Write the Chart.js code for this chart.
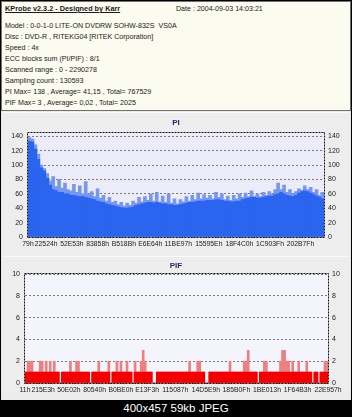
<!DOCTYPE html>
<html>
<head>
<meta charset="utf-8">
<title>KProbe PI/PIF</title>
<script src="https://cdn.jsdelivr.net/npm/chart.js@4.4.0/dist/chart.umd.min.js"></script>
<style>
	body{margin:0;background:#000;width:352px;height:417px;overflow:hidden;font-family:"Liberation Sans",Arial,sans-serif;}
	#frame{position:absolute;left:1px;top:1px;width:350px;height:399px;background:#ebebeb;}
	#info{position:absolute;left:0;top:0;width:348px;height:108px;background:#fbfbef;border:1px solid #707070;}
	.ln{position:absolute;left:3px;font-size:7.1px;color:#1a1a1a;white-space:nowrap;line-height:8px;}
	.hd{font-weight:bold;text-decoration:underline;font-size:7.3px;}
	.pane{position:absolute;left:2px;width:346px;background:#ededed;border-top:1px solid #fafafa;}
	#cap{position:absolute;left:0;top:400px;width:352px;height:17px;color:#fff;font-size:11.5px;text-align:center;line-height:17px;}
</style>
</head>
<body>
<div id="frame">
	<div id="info">
		<div class="ln hd" style="top:3px;">KProbe v2.3.2 - Designed by Karr</div>
		<div class="ln" style="top:3px;left:174px;">Date : 2004-09-03 14:03:21</div>
		<div class="ln" style="top:20px;">Model : 0-0-1-0 LITE-ON DVDRW SOHW-832S&nbsp; VS0A</div>
		<div class="ln" style="top:31px;">Disc : DVD-R , RITEKG04 [RITEK Corporation]</div>
		<div class="ln" style="top:42px;">Speed : 4x</div>
		<div class="ln" style="top:53px;">ECC blocks sum (PI/PIF) : 8/1</div>
		<div class="ln" style="top:64px;">Scanned range : 0 - 2290278</div>
		<div class="ln" style="top:75px;">Sampling count : 130593</div>
		<div class="ln" style="top:86px;">PI Max= 138 , Average= 41,15 , Total= 767529</div>
		<div class="ln" style="top:97px;">PIF Max= 3 , Average= 0,02 , Total= 2025</div>
	</div>
	<div class="pane" style="top:111px;height:143px;"><canvas id="piChart" width="346" height="142"></canvas></div>
	<div class="pane" style="top:255px;height:142px;"><canvas id="pifChart" width="346" height="141"></canvas></div>
</div>
<div id="cap">400x457 59kb JPEG</div>
<script type="text/javascript">
	// tick labels (hex sector addresses)
	var piTicks = ['79h','22524h','52E53h','83858h','B518Bh','E6E64h','11BE97h','15595Eh','18F4C0h','1C903Fh','202B7Fh'];
	var pifTicks = ['11h','215E3h','50E02h','80540h','B0BE0h','E13F3h','115087h','14D5E9h','185B0Fh','1BE013h','1F64B3h','22E957h'];
	var scanEnd = 2290278;

	// PI: solid body of the area and the lighter spikes on top
	var piBase = [133,132,122,108,96,92,82,72,66,64, 62,62,60,60,58,58,57,56,56,55,
		54,53,52,50,49,48,46,45,44,43, 42,41,40,40,41,42,44,45,46,47,
		48,48,47,48,47,46,46,45,45,44, 44,45,46,47,48,48,49,50,50,50,
		51,51,51,52,52,51,50,50,49,49, 50,50,52,53,54,55,55,54,54,55,
		56,57,57,59,60,62,60,58,57,56, 58,61,63,64,63,61,59,57,55,53];
	var piPeak = [138,136,128,115,100,95,88,78,84,70, 80,68,75,66,64,73,62,71,60,77,
		60,63,56,67,54,58,50,55,48,50, 45,48,43,47,44,50,47,55,49,56,
		51,60,50,62,49,57,48,60,47,53, 46,52,49,56,50,58,52,61,53,59,
		54,58,53,62,55,60,52,57,51,58, 53,60,55,61,56,64,57,60,56,62,
		58,63,60,66,75,66,72,62,66,60, 63,67,65,71,66,69,62,66,58,62];

	// PIF per sample
	var pifValues = [1,2,2,2,1,1,1,2,2,1, 2,1,2,1,2,1,1,0,1,1,
		1,1,2,1,1,2,2,1,1,1, 1,1,0,1,1,1,2,1,1,1,
		1,2,0,1,1,2,1,2,1,1, 2,1,1,0,2,1,1,2,3,2,
		1,1,1,0,0,1,1,1,1,1, 1,1,1,1,1,1,1,1,1,1,
		1,2,1,1,1,2,2,1,1,0, 0,1,1,1,1,1,1,1,1,1,
		1,2,1,1,1,1,1,1,2,2, 3,1,1,1,1,0,1,1,2,2,
		1,1,1,1,1,1,2,3,3,2, 2,1,2,1,1,2,1,1,1,2,
		1,1,0,1,1,0,1,1,2,2];

	function hex(s){ return parseInt(s, 16); }
	function toPoints(values, start, end){
		var step = (end - start) / values.length;
		return values.map(function(v, i){ return {x: start + (i + 0.5) * step, y: v}; });
	}

	Chart.defaults.font.family = '"Liberation Sans", Arial, sans-serif';
	Chart.defaults.color = '#1a1a1a';
	Chart.defaults.animation = false;

	// plot background + dotted frame
	var framePlugin = {
		id: 'frame',
		beforeDraw: function(chart, args, o){
			var a = chart.chartArea, c = chart.ctx;
			c.save(); c.fillStyle = o.bg; c.fillRect(a.left, a.top, a.right - a.left, a.bottom - a.top); c.restore();
		},
		afterDatasetsDraw: function(chart, args, o){
			var a = chart.chartArea, c = chart.ctx;
			c.save(); c.strokeStyle = '#111'; c.lineWidth = 1; c.setLineDash([2, 1]);
			c.strokeRect(Math.round(a.left) - 0.5, Math.round(a.top) - 0.5, Math.round(a.right - a.left) + 1, Math.round(a.bottom - a.top) + 1);
			c.restore();
		}
	};

	function makeChart(id, cfg){
		var start = hex(cfg.ticks[0]);
		var yAxis = function(pos, w){
			return {
				position: pos, min: 0, max: cfg.yMax,
				afterFit: function(s){ s.width = w; },
				grid: {display: pos == 'left', drawTicks: false, color: '#7a7a7a', lineWidth: 1},
				border: {display: false, dash: [2, 2]},
				ticks: {stepSize: cfg.step, includeBounds: false, padding: pos == 'left' ? 5 : 4, font: {size: 7}}
			};
		};
		return new Chart(document.getElementById(id), {
			type: 'bar',
			data: {datasets: [
				{data: toPoints(cfg.base, start, cfg.end), backgroundColor: cfg.color, grouped: false, barPercentage: 1, categoryPercentage: 1, yAxisID: 'y'},
				{data: toPoints(cfg.peak, start, cfg.end), backgroundColor: cfg.light, grouped: false, barPercentage: 1, categoryPercentage: 1, yAxisID: 'y2'}
			]},
			options: {
				responsive: false,
				devicePixelRatio: 1,
				layout: {padding: 0},
				plugins: {
					legend: {display: false},
					tooltip: {enabled: false},
					title: {display: true, text: cfg.title, color: '#1c2a6e', font: {size: 8, weight: 'bold'}, padding: cfg.titlePad},
					frame: {bg: cfg.bg}
				},
				scales: {
					x: {
						type: 'linear', min: start, max: cfg.end, offset: false,
						afterFit: function(s){ s.height = cfg.xh; },
						afterBuildTicks: function(s){ s.ticks = cfg.ticks.map(function(t){ return {value: hex(t)}; }); },
						grid: {display: false, drawTicks: false, offset: false},
						border: {display: false},
						ticks: {autoSkip: false, maxRotation: 0, padding: 3, font: {size: 6.8},
							callback: function(v, i){ return cfg.ticks[i]; }}
					},
					y: yAxis('left', cfg.lw),
					y2: yAxis('right', cfg.rw)
				}
			},
			plugins: [framePlugin]
		});
	}

	makeChart('piChart', {
		title: 'PI', ticks: piTicks, end: scanEnd, base: piBase, peak: piPeak,
		color: '#2b64ef', light: '#7896ee', bg: '#ececf8',
		yMax: 145, step: 20, lw: 25, rw: 25, xh: 18, titlePad: {top: 5, bottom: 5}
	});
	makeChart('pifChart', {
		title: 'PIF', ticks: pifTicks, end: hex(pifTicks[pifTicks.length - 1]),
		base: pifValues.map(function(v){ return Math.min(v, 1); }), peak: pifValues,
		color: '#f20000', light: '#ec8080', bg: '#f4f4fc',
		yMax: 10, step: 1, lw: 22, rw: 21, xh: 15, titlePad: {top: 4, bottom: 3.4}
	});
</script>
</body>
</html>
